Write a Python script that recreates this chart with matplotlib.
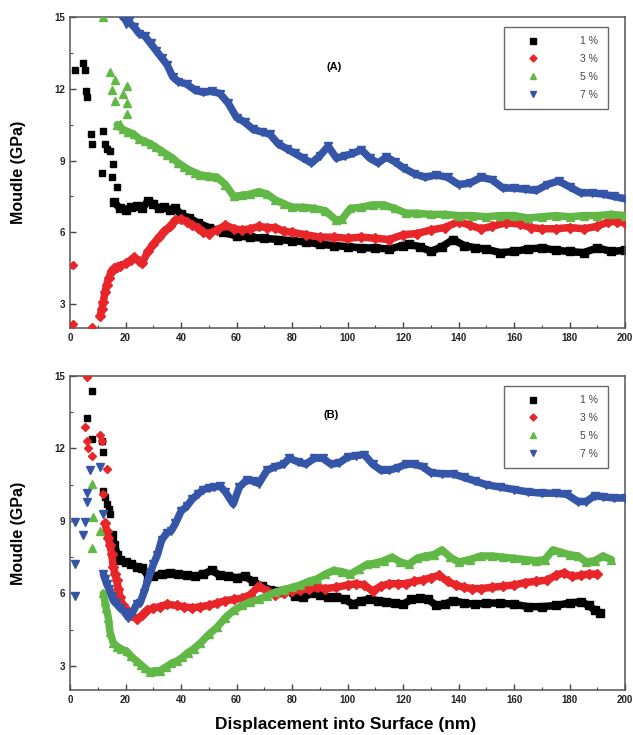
import matplotlib
matplotlib.use("Agg")
import matplotlib.pyplot as plt

plt.rcParams["font.family"] = ["Liberation Sans", "DejaVu Sans"]
plt.rcParams["font.weight"] = "bold"

labels = ["1 %", "3 %", "5 %", "7 %"]
colors = ["#000000", "#e8262a", "#62b846", "#3556a8"]
markers = ["s", "D", "^", "v"]
msizes = [4.8, 4.2, 5.6, 5.6]

# ---- panel (A) ----
# isolated points at shallow depth
a1_sx = [1.8, 4.8, 5.4, 5.8, 6.0, 7.4, 7.8, 11.4, 12.0, 12.6, 13.4, 14.4, 15.0, 15.4, 16.8]
a1_sy = [12.8, 13.1, 12.8, 11.9, 11.65, 10.1, 9.7, 8.5, 10.25, 9.7, 9.5, 9.4, 8.3, 8.85, 7.9]
a3_sx = [1.2, 1.2, 7.8]
a3_sy = [4.65, 2.15, 2.05]
a5_sx = [12.0, 14.4, 15.0, 16.2, 16.2, 18.0, 19.0, 20.4, 20.4, 20.4]
a5_sy = [15.0, 12.7, 11.95, 12.35, 11.5, 10.55, 11.8, 12.1, 11.4, 10.95]
a7_sx = [20.0, 22.0]
a7_sy = [14.7, 15.0]

# continuous part
a1_x = [16, 18, 20, 22, 24, 26, 28, 30, 32, 34, 36, 38, 40, 43, 46, 50, 55, 60, 65,
        70, 75, 80, 85, 90, 95, 100, 105, 110, 115, 120, 122, 126, 130, 134, 138, 142,
        146, 150, 155, 160, 165, 170, 175, 180, 185, 190, 195, 200]
a1_y = [7.25, 7.0, 6.95, 7.05, 7.1, 7.0, 7.3, 7.2, 7.0, 7.05, 6.95, 7.0, 6.75, 6.6,
        6.4, 6.2, 6.0, 5.85, 5.8, 5.75, 5.7, 5.65, 5.6, 5.5, 5.45, 5.4, 5.35, 5.35, 5.3,
        5.45, 5.5, 5.4, 5.2, 5.4, 5.7, 5.45, 5.35, 5.3, 5.15, 5.2, 5.3, 5.35, 5.25, 5.2,
        5.15, 5.35, 5.2, 5.25]
a3_x = [10.8, 11.5, 12, 12.6, 13.2, 14, 15, 16, 17, 18, 20, 22, 23, 25, 26, 28, 30, 32,
        34, 36, 38, 40, 42, 44, 46, 48, 50, 53, 56, 59, 62, 65, 68, 71, 74, 77, 80, 85,
        90, 95, 100, 105, 110, 115, 120, 125, 130, 135, 140, 144, 148, 152, 157, 162,
        166, 170, 175, 180, 185, 190, 194, 197, 200]
a3_y = [2.5, 2.8, 3.1, 3.5, 3.8, 4.1, 4.4, 4.5, 4.55, 4.6, 4.7, 4.85, 4.95, 4.8, 4.7,
        5.2, 5.5, 5.8, 6.05, 6.25, 6.5, 6.55, 6.45, 6.3, 6.2, 6.0, 5.95, 6.1, 6.3, 6.15,
        6.1, 6.15, 6.25, 6.2, 6.2, 6.05, 6.0, 5.9, 5.8, 5.8, 5.75, 5.8, 5.75, 5.7, 5.9,
        5.95, 6.1, 6.2, 6.45, 6.3, 6.15, 6.25, 6.4, 6.35, 6.2, 6.15, 6.15, 6.2, 6.15,
        6.25, 6.45, 6.45, 6.4]
a5_x = [17, 19, 21, 23, 25, 27, 29, 31, 33, 35, 37, 39, 41, 43, 45, 47, 50, 53, 56, 59,
        62, 65, 68, 71, 74, 77, 80, 84, 88, 92, 96, 98, 101, 105, 109, 113, 117, 121,
        125, 130, 135, 140, 145, 150, 155, 160, 165, 170, 175, 180, 185, 190, 195, 200]
a5_y = [10.5, 10.3, 10.2, 10.1, 9.9, 9.8, 9.7, 9.55, 9.4, 9.25, 9.1, 8.9, 8.75, 8.6,
        8.5, 8.4, 8.35, 8.3, 8.0, 7.5, 7.55, 7.6, 7.7, 7.6, 7.35, 7.2, 7.05, 7.05, 7.0,
        6.9, 6.5, 6.55, 7.0, 7.05, 7.15, 7.15, 7.0, 6.8, 6.8, 6.75, 6.75, 6.7, 6.7, 6.65,
        6.7, 6.7, 6.6, 6.65, 6.7, 6.65, 6.7, 6.7, 6.75, 6.7]
a7_x = [19, 21, 23, 25, 27, 29, 31, 33, 35, 37, 39, 42, 45, 48, 51, 54, 57, 60, 63, 66,
        69, 72, 75, 78, 81, 84, 87, 90, 93, 96, 99, 102, 105, 108, 111, 114, 117, 120,
        124, 128, 132, 136, 140, 144, 148, 152, 156, 160, 164, 168, 172, 176, 180, 184,
        188, 192, 196, 200]
a7_y = [15.0, 14.8, 14.6, 14.3, 14.2, 13.9, 13.6, 13.3, 13.0, 12.5, 12.3, 12.2, 11.95,
        11.85, 11.9, 11.8, 11.4, 10.8, 10.6, 10.3, 10.2, 10.1, 9.7, 9.5, 9.3, 9.1, 8.9,
        9.2, 9.6, 9.1, 9.2, 9.3, 9.45, 9.1, 8.9, 9.15, 8.95, 8.7, 8.45, 8.3, 8.4, 8.3,
        8.0, 8.05, 8.3, 8.2, 7.85, 7.85, 7.8, 7.75, 8.0, 8.15, 7.9, 7.65, 7.65, 7.6,
        7.5, 7.4]

# ---- panel (B) ----
b1_sx = [6.0, 7.8, 7.8, 11.4, 12.0, 12.0, 12.6, 13.2, 14.0, 14.4]
b1_sy = [13.25, 14.4, 12.4, 12.3, 11.85, 10.25, 10.0, 9.7, 9.5, 9.3]
b3_sx = [6.0, 5.4, 6.2, 6.6, 7.8, 10.8, 11.4, 13.2, 12.0]
b3_sy = [14.95, 12.9, 12.3, 12.0, 11.7, 12.55, 12.3, 11.15, 10.1]
b5_sx = [7.8, 8.4, 7.8, 10.8]
b5_sy = [10.55, 9.15, 7.9, 8.6]
b7_sx = [1.8, 1.8, 1.8, 4.8, 5.4, 6.0, 6.0, 7.2, 10.8, 12.0]
b7_sy = [8.95, 7.2, 5.9, 8.4, 8.95, 9.8, 10.15, 11.1, 11.25, 9.3]

b1_x = [15, 16, 17, 18, 20, 22, 24, 26, 28, 30, 33, 36, 39, 42, 45, 48, 51, 54, 57, 60,
        63, 66, 69, 72, 75, 78, 81, 84, 87, 90, 93, 96, 99, 102, 105, 108, 111, 114, 117,
        120, 123, 126, 129, 132, 135, 138, 142, 146, 150, 155, 160, 165, 170, 175, 180,
        184, 187, 189, 191]
b1_y = [8.4, 8.0, 7.6, 7.4, 7.3, 7.2, 7.1, 7.05, 6.75, 6.7, 6.8, 6.85, 6.8, 6.75, 6.7,
        6.8, 6.95, 6.75, 6.7, 6.65, 6.7, 6.5, 6.3, 6.15, 6.1, 6.15, 5.9, 5.85, 6.0, 5.95,
        5.85, 5.85, 5.75, 5.55, 5.7, 5.75, 5.7, 5.65, 5.6, 5.55, 5.75, 5.8, 5.75, 5.5,
        5.55, 5.7, 5.6, 5.55, 5.6, 5.6, 5.55, 5.45, 5.45, 5.5, 5.6, 5.65, 5.5, 5.3, 5.2]
b3_x = [12.6, 13.2, 13.8, 14.4, 15, 15.6, 16.2, 16.8, 17.4, 18, 19, 20.4, 22, 24, 26,
        27.6, 30, 32.4, 35, 38.4, 41, 44, 47, 50, 53, 56, 59, 62, 65, 68, 71, 74, 77, 80,
        83, 86, 89, 92, 96, 100, 103, 106, 109, 112, 115, 118, 121, 124, 127, 130, 133,
        136, 139, 142, 145, 148, 152, 156, 160, 164, 168, 172, 175, 178, 181, 184, 187,
        190]
b3_y = [8.9, 8.6, 8.3, 8.0, 7.65, 7.1, 6.8, 6.55, 6.2, 5.85, 5.5, 5.3, 5.1, 4.95, 5.1,
        5.3, 5.4, 5.45, 5.55, 5.5, 5.45, 5.4, 5.45, 5.5, 5.6, 5.7, 5.75, 5.8, 5.95, 6.3,
        6.1, 5.95, 6.0, 6.1, 6.15, 6.2, 6.25, 6.2, 6.25, 6.35, 6.4, 6.35, 6.1, 6.3, 6.4,
        6.4, 6.4, 6.5, 6.55, 6.65, 6.75, 6.5, 6.35, 6.25, 6.2, 6.2, 6.25, 6.3, 6.35,
        6.45, 6.5, 6.55, 6.75, 6.85, 6.7, 6.75, 6.8, 6.8]
b5_x = [12, 12.5, 13, 13.8, 14.4, 15.6, 17, 18.5, 20.4, 22, 24, 25.5, 27, 28.8, 30.5,
        32.4, 34.5, 36.5, 38.5, 40.5, 42.5, 44.5, 47, 50, 53, 56, 59, 62, 65, 68, 71, 74,
        77, 80, 83, 86, 89, 92, 95, 98, 101, 104, 107, 110, 113, 116, 119, 122, 125, 128,
        131, 134, 137, 140, 144, 148, 152, 156, 160, 164, 168, 171, 174, 177, 180, 183,
        186, 189, 192, 195]
b5_y = [6.0, 5.7, 5.4, 5.0, 4.4, 3.95, 3.8, 3.7, 3.6, 3.4, 3.2, 3.05, 2.9, 2.75, 2.8,
        2.8, 2.95, 3.1, 3.2, 3.35, 3.55, 3.7, 3.95, 4.3, 4.6, 5.0, 5.3, 5.5, 5.65, 5.75,
        5.9, 6.05, 6.15, 6.25, 6.35, 6.5, 6.6, 6.8, 6.95, 6.9, 6.8, 7.0, 7.2, 7.25, 7.35,
        7.5, 7.3, 7.2, 7.45, 7.55, 7.6, 7.8, 7.5, 7.3, 7.4, 7.55, 7.55, 7.5, 7.45, 7.4,
        7.35, 7.4, 7.8, 7.7, 7.6, 7.55, 7.3, 7.35, 7.55, 7.4]
b7_x = [12, 12.6, 13.2, 14, 15, 15.6, 16.5, 18, 19.5, 21, 22.5, 24, 25.2, 26.5, 27.6,
        28.8, 30, 31.5, 33, 34.8, 36.5, 38, 40, 42, 44, 46, 48, 50, 52, 54, 56, 58.8, 61,
        63.7, 66, 68, 71, 74, 77, 79, 82, 85, 88, 91, 94, 97, 100, 103, 106, 109, 112,
        115, 118, 121, 124, 127, 130, 134, 138, 142, 146, 150, 155, 160, 165, 170, 175,
        179, 183, 186, 189, 192, 196, 200]
b7_y = [6.8, 6.6, 6.4, 6.2, 5.9, 5.7, 5.6, 5.4, 5.25, 5.0, 5.2, 5.55, 5.6, 6.0, 6.4, 6.8,
        7.2, 7.6, 8.2, 8.5, 8.6, 8.9, 9.4, 9.6, 9.9, 10.1, 10.3, 10.35, 10.4, 10.45, 10.2,
        9.7, 10.4, 10.7, 10.65, 10.55, 11.1, 11.25, 11.35, 11.6, 11.45, 11.35, 11.6, 11.6,
        11.35, 11.4, 11.65, 11.7, 11.75, 11.35, 11.1, 11.1, 11.2, 11.35, 11.35, 11.25,
        11.0, 10.95, 10.95, 10.8, 10.65, 10.5, 10.4, 10.3, 10.2, 10.15, 10.15, 10.1, 9.8,
        9.8, 10.05, 10.0, 9.95, 9.95]

xticks = list(range(0, 201, 20))
yticks = [3, 6, 9, 12, 15]


def draw_panel(ax, scatters, bands, tag, tag_xy):
    for i, ((sx, sy), (bx, by)) in enumerate(zip(scatters, bands)):
        ax.plot(bx, by, "-", color=colors[i], lw=5.4, solid_capstyle="round",
                solid_joinstyle="round", zorder=2 + i)
        ax.plot(bx, by, ls="none", marker=markers[i], ms=msizes[i] + 0.6,
                color=colors[i], zorder=2 + i)
        ax.plot(sx, sy, ls="none", marker=markers[i], ms=msizes[i], color=colors[i],
                zorder=2 + i, label=labels[i])
    ax.set_xlim(0, 200)
    ax.set_ylim(2, 15)
    ax.set_xticks(xticks)
    ax.set_yticks(yticks)
    ax.set_xticks(range(10, 200, 20), minor=True)
    ax.set_yticks([4.5, 7.5, 10.5, 13.5], minor=True)
    ax.tick_params(which="both", direction="in", top=False, right=False,
                   labelsize=7, colors="#444444", labelcolor="#222222")
    ax.tick_params(which="major", length=4, width=1)
    ax.tick_params(which="minor", length=2.5, width=0.8)
    for sp in ax.spines.values():
        sp.set_color("#555555")
        sp.set_linewidth(1.1)
    ax.set_ylabel("Moudle (GPa)", fontsize=11.5, fontweight="bold")
    ax.yaxis.set_label_coords(-0.08, 0.5)
    ax.text(tag_xy[0], tag_xy[1], tag, fontsize=8, fontweight="bold", ha="center",
            va="center")
    leg = ax.legend(loc="upper right", bbox_to_anchor=(0.978, 0.985), numpoints=1,
                    handlelength=3.8, handletextpad=2.6, labelspacing=0.75,
                    borderpad=0.9, fontsize=7.5, fancybox=False, frameon=True,
                    markerscale=0.85)
    leg.get_frame().set_edgecolor("#444444")
    leg.get_frame().set_linewidth(1.0)
    for t in leg.get_texts():
        t.set_color("#444444")
        t.set_fontweight("normal")


fig = plt.figure(figsize=(6.33, 7.35), dpi=100)
axA = fig.add_axes([0.1106, 0.5537, 0.877, 0.4231])
axB = fig.add_axes([0.1106, 0.0612, 0.877, 0.4272])

draw_panel(axA,
           [(a1_sx, a1_sy), (a3_sx, a3_sy), (a5_sx, a5_sy), (a7_sx, a7_sy)],
           [(a1_x, a1_y), (a3_x, a3_y), (a5_x, a5_y), (a7_x, a7_y)],
           "(A)", (95, 12.9))
draw_panel(axB,
           [(b1_sx, b1_sy), (b3_sx, b3_sy), (b5_sx, b5_sy), (b7_sx, b7_sy)],
           [(b1_x, b1_y), (b3_x, b3_y), (b5_x, b5_y), (b7_x, b7_y)],
           "(B)", (94, 13.4))

axB.set_xlabel("Displacement into Surface (nm)", fontsize=12.5, fontweight="bold")
axB.xaxis.set_label_coords(0.497, -0.085)

fig.savefig("out.png", dpi=100)
